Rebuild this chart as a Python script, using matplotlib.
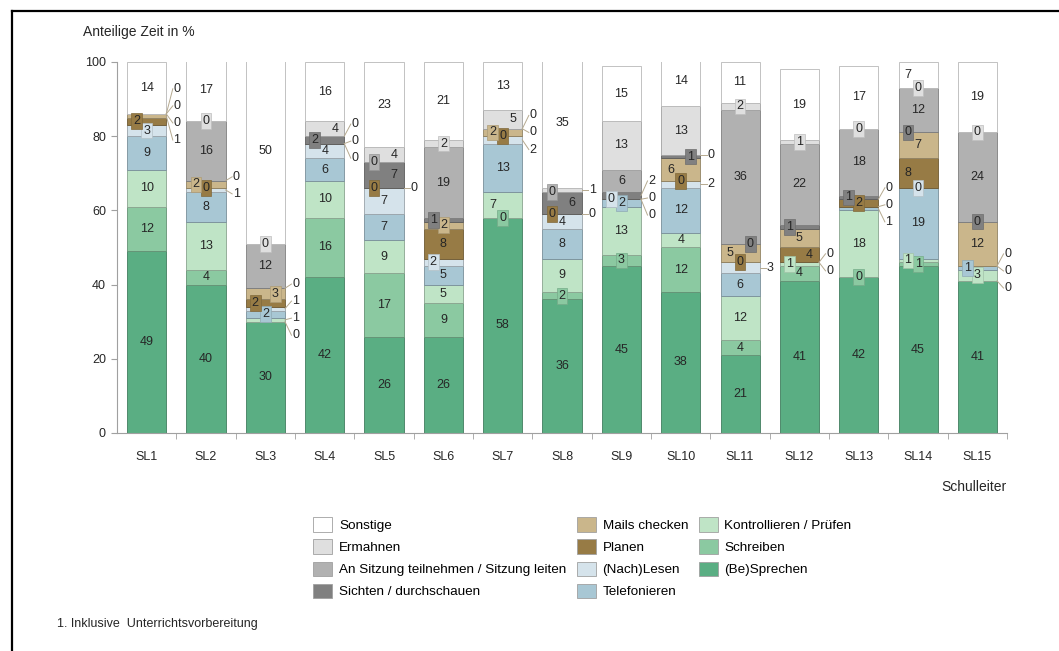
import numpy as np
import matplotlib
matplotlib.use('Agg')
import matplotlib.pyplot as plt
from matplotlib.patches import Patch
from matplotlib.lines import Line2D
from matplotlib.colors import to_rgb

plt.rcParams['font.family'] = ['Liberation Sans', 'DejaVu Sans']

schulleiter = ['SL1', 'SL2', 'SL3', 'SL4', 'SL5', 'SL6', 'SL7', 'SL8',
               'SL9', 'SL10', 'SL11', 'SL12', 'SL13', 'SL14', 'SL15']

# Anteile in %, von unten nach oben gestapelt
sprechen      = [49, 40, 30, 42, 26, 26, 58, 36, 45, 38, 21, 41, 42, 45, 41]
schreiben     = [12, 4, 0, 16, 17, 9, 0, 2, 3, 12, 4, 4, 0, 1, 0]
kontrollieren = [10, 13, 1, 10, 9, 5, 7, 9, 13, 4, 12, 1, 18, 1, 3]
telefonieren  = [9, 8, 2, 6, 7, 5, 13, 8, 2, 12, 6, 0, 1, 19, 1]
nachlesen     = [3, 1, 1, 4, 7, 2, 2, 4, 0, 2, 3, 0, 0, 0, 0]
planen        = [2, 0, 2, 0, 0, 8, 0, 0, 0, 0, 0, 4, 2, 8, 0]
mails         = [1, 2, 3, 0, 0, 2, 2, 0, 0, 6, 5, 5, 0, 7, 12]
sichten       = [0, 0, 0, 2, 7, 1, 0, 6, 2, 1, 0, 1, 1, 0, 0]
sitzung       = [0, 16, 12, 0, 0, 19, 0, 0, 6, 0, 36, 22, 18, 12, 24]
ermahnen      = [0, 0, 0, 4, 4, 2, 5, 1, 13, 13, 2, 1, 0, 0, 0]
sonstige      = [14, 17, 50, 16, 23, 21, 13, 35, 15, 14, 11, 19, 17, 7, 19]

series = [
    ('spr', '(Be)Sprechen', sprechen, '#5aae83'),
    ('schr', 'Schreiben', schreiben, '#8bc9a1'),
    ('kontr', 'Kontrollieren / Prüfen', kontrollieren, '#bfe4c6'),
    ('tel', 'Telefonieren', telefonieren, '#a8c7d4'),
    ('lesen', '(Nach)Lesen', nachlesen, '#d5e3eb'),
    ('plan', 'Planen', planen, '#977b45'),
    ('mail', 'Mails checken', mails, '#cab68b'),
    ('sicht', 'Sichten / durchschauen', sichten, '#808080'),
    ('sitz', 'An Sitzung teilnehmen / Sitzung leiten', sitzung, '#b1b1b1'),
    ('erm', 'Ermahnen', ermahnen, '#dfdfdf'),
    ('sonst', 'Sonstige', sonstige, '#ffffff'),
]

# kleine Segmente, deren Wert rechts neben dem Balken steht
outside = {
    0: ['mail', 'sicht', 'sitz', 'erm'],
    1: ['lesen', 'sicht'],
    2: ['schr', 'kontr', 'lesen', 'sicht'],
    3: ['plan', 'mail', 'sitz'],
    4: ['mail'],
    6: ['lesen', 'sicht', 'sitz'],
    7: ['mail', 'erm'],
    8: ['plan', 'mail', 'sicht'],
    9: ['lesen', 'sitz'],
    10: ['lesen'],
    11: ['tel', 'lesen'],
    12: ['tel', 'lesen', 'mail'],
    14: ['schr', 'lesen', 'plan'],
}


def darker(c, f=0.72):
    r, g, b = to_rgb(c)
    return (r * f, g * f, b * f)


fig = plt.figure(figsize=(10.59, 6.51), dpi=100)
ax = fig.add_axes([0.1105, 0.3349, 0.8405, 0.5699])

x = np.arange(len(schulleiter))
width = 0.66
bottom = np.zeros(len(x))
segments = [[] for _ in x]
for key, name, vals, col in series:
    v = np.array(vals, dtype=float)
    ax.bar(x, v, width, bottom=bottom, color=col, edgecolor=darker(col),
           linewidth=0.6, label=name, zorder=2)
    for i in x:
        segments[i].append((key, v[i], bottom[i], col))
    bottom += v

txt = '#262626'
fs = 9
for i in x:
    last_y, last_side = -99, 0
    out = []
    for key, val, y0, col in segments[i]:
        yc = y0 + val / 2
        if key in outside.get(i, []):
            out.append((yc, val))
            continue
        side = 0
        if yc - last_y < 4.5:
            side = -1 if last_side >= 0 else 1
        if val >= 4:
            ax.text(i + side * 0.17, yc, f'{val:.0f}', ha='center',
                    va='center', fontsize=fs, color=txt, zorder=4)
        else:
            ax.text(i + side * 0.17, yc, f'{val:.0f}', ha='center',
                    va='center', fontsize=fs, color=txt, zorder=5,
                    bbox=dict(boxstyle='square,pad=0.15', fc=col,
                              ec=darker(col, 0.85), lw=0.5))
        last_y, last_side = yc, side

    if out:
        ys = [o[0] for o in out]
        sep = 4.6
        for _ in range(200):
            for j in range(len(ys) - 1):
                d = ys[j + 1] - ys[j]
                if d < sep:
                    s = (sep - d) / 2
                    ys[j] -= s
                    ys[j + 1] += s
        for (yc, val), yl in zip(out, ys):
            ax.plot([i + width / 2, i + 0.44], [yc, yl], color='#b5a98f',
                    lw=0.7, zorder=3, clip_on=False)
            ax.text(i + 0.45, yl, f'{val:.0f}', ha='left', va='center',
                    fontsize=fs, color=txt, zorder=4)

ax.set_xlim(-0.5, 14.5)
ax.set_ylim(0, 100)
ax.set_yticks(range(0, 101, 20))
ax.set_xticks(x)
ax.set_xticklabels(schulleiter)
ax.set_xticks(np.arange(0.5, 15, 1), minor=True)
ax.tick_params(axis='x', which='major', length=0, pad=13, labelsize=9,
               labelcolor=txt)
ax.tick_params(axis='x', which='minor', length=4, color='#a0a0a0')
ax.tick_params(axis='y', length=4, color='#a0a0a0', pad=4, labelsize=9,
               labelcolor=txt)
for s in ['top', 'right']:
    ax.spines[s].set_visible(False)
for s in ['left', 'bottom']:
    ax.spines[s].set_color('#a0a0a0')
    ax.spines[s].set_linewidth(0.8)

fig.text(83 / 1059, 1 - 32 / 651, 'Anteilige Zeit in %', ha='left',
         va='center', fontsize=10, color=txt)
fig.text(1007 / 1059, 1 - 487 / 651, 'Schulleiter', ha='right',
         va='center', fontsize=10, color=txt)
fig.text(57 / 1059, 1 - 624 / 651, '1. Inklusive  Unterrichtsvorbereitung',
         ha='left', va='center', fontsize=9, color=txt)

# Legende: Spalten wie im Original (Sonstige oben links)
handles = [Patch(facecolor=col, edgecolor='#a0a0a0', linewidth=0.6)
           for _, _, _, col in series[::-1]]
labels = [name for _, name, _, _ in series[::-1]]
fig.legend(handles, labels, ncol=3, loc='upper left',
           bbox_to_anchor=(308 / 1059, 1 - 512 / 651), frameon=False,
           fontsize=9.7, handlelength=1.4, handleheight=1.25,
           handletextpad=0.5, columnspacing=0.8, labelspacing=0.55,
           borderaxespad=0)

# Rahmen oben und links
fig.add_artist(Line2D([12 / 1059, 1], [1 - 11 / 651] * 2, color='black',
                      lw=1.6, transform=fig.transFigure))
fig.add_artist(Line2D([12 / 1059] * 2, [0, 1 - 11 / 651], color='black',
                      lw=1.6, transform=fig.transFigure))

fig.savefig('out.png', dpi=100)
